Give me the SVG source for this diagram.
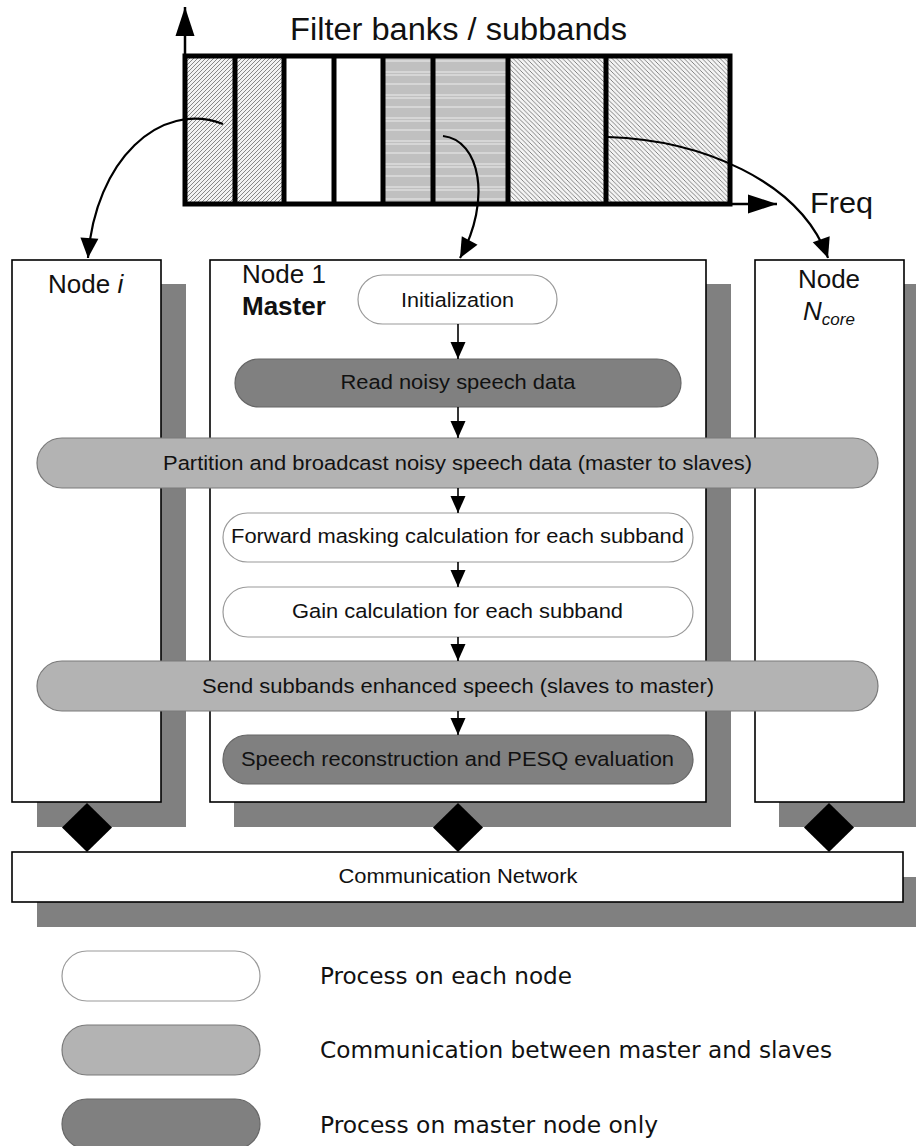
<svg xmlns="http://www.w3.org/2000/svg" width="916" height="1146" viewBox="0 0 916 1146">
<style>
.box{fill:#fff;stroke:#000;stroke-width:1.6}
.shadow{fill:#808080}
.pw{fill:#fff;stroke:#9a9a9a;stroke-width:1.2}
.pl{fill:#b3b3b3;stroke:#7a7a7a;stroke-width:1.2}
.pd{fill:#808080;stroke:#666;stroke-width:1.2}
.t{font-family:"Liberation Sans",Arial,sans-serif;fill:#111}
.pt{font-family:"Liberation Sans",Arial,sans-serif;font-size:20.5px;fill:#111;text-anchor:middle}
.lt{font-family:"DejaVu Sans","Liberation Sans",sans-serif;font-stretch:condensed;font-size:23px;fill:#111}
.con{fill:none;stroke:#000;stroke-width:2.2}
.flow{stroke:#000;stroke-width:1.6}
.band{stroke:#000;stroke-width:5;fill:none}
.dia{fill:#000}
</style>
<defs>
<pattern id="hatchA" patternUnits="userSpaceOnUse" width="4" height="4">
<rect width="4" height="4" fill="#f2f2f2"/>
<path d="M-1,1 l2,-2 M0,4 l4,-4 M3,5 l2,-2" stroke="#7a7a7a" stroke-width="0.9"/>
</pattern>
<pattern id="hatchB" patternUnits="userSpaceOnUse" width="4.5" height="4.5">
<rect width="4.5" height="4.5" fill="#f4f4f4"/>
<path d="M-1,3.5 l2,2 M0,0 l4.5,4.5 M3.5,-1 l2,2" stroke="#777" stroke-width="0.9"/>
</pattern>
<pattern id="horiz" patternUnits="userSpaceOnUse" width="10" height="23">
<rect width="10" height="23" fill="#c0c0c0"/>
<path d="M0,3 h10 M0,6 h10 M0,15 h10" stroke="#fff" stroke-width="0.7"/>
</pattern>
<marker id="ah" markerUnits="userSpaceOnUse" markerWidth="22" markerHeight="22" viewBox="0 0 22 22" refX="21" refY="11" orient="auto">
<path d="M1,2 L21,11 L1,20 Z" fill="#000"/>
</marker>
<marker id="as" markerUnits="userSpaceOnUse" markerWidth="18" markerHeight="16" viewBox="0 0 18 16" refX="17" refY="8" orient="auto">
<path d="M0,0.5 L17,8 L0,15.5 Z" fill="#000"/>
</marker>
<marker id="ax" markerUnits="userSpaceOnUse" markerWidth="30" markerHeight="20" viewBox="0 0 30 20" refX="29" refY="10" orient="auto">
<path d="M0,0.5 L29,10 L0,19.5 Z" fill="#000"/>
</marker>
</defs>

<g id="filterbank">
<rect x="185" y="56" width="50" height="148" fill="url(#hatchA)"/>
<rect x="235" y="56" width="49" height="148" fill="url(#hatchA)"/>
<rect x="284" y="56" width="99" height="148" fill="#fff"/>
<rect x="383" y="56" width="125" height="148" fill="url(#horiz)"/>
<rect x="508" y="56" width="222" height="148" fill="url(#hatchB)"/>
<path class="band" d="M235,56 V204 M284,56 V204 M334,56 V204 M383,56 V204 M433,56 V204 M508,56 V204 M606,56 V204"/>
<rect class="band" x="185" y="56" width="545" height="148"/>
<line x1="185" y1="58" x2="185" y2="7" stroke="#000" stroke-width="2.5" marker-end="url(#ax)"/>
<line x1="728" y1="204" x2="777" y2="204" stroke="#000" stroke-width="2.5" marker-end="url(#ax)"/>
<text class="t" x="290" y="40" font-size="31" textLength="337" lengthAdjust="spacingAndGlyphs">Filter banks / subbands</text>
<text class="t" x="810" y="213" font-size="30" textLength="63" lengthAdjust="spacingAndGlyphs">Freq</text>
</g>

<g id="shadows">
<rect class="shadow" x="37" y="284" width="149" height="543"/>
<rect class="shadow" x="234" y="284" width="497" height="543"/>
<rect class="shadow" x="779" y="284" width="149" height="543"/>
<rect class="shadow" x="37" y="877" width="900" height="50"/>
</g>

<g id="node-i">
<rect class="box" x="12" y="260" width="149" height="542"/>
<text class="t" x="48" y="293" font-size="26">Node <tspan font-style="italic">i</tspan></text>
</g>

<g id="node-1">
<rect class="box" x="210" y="260" width="496" height="542"/>
<text class="t" x="242" y="283" font-size="26">Node 1</text>
<text class="t" x="242" y="315" font-size="26" font-weight="bold">Master</text>
</g>

<g id="node-ncore">
<rect class="box" x="755" y="260" width="149" height="542"/>
<text class="t" x="829" y="288" font-size="26" text-anchor="middle">Node</text>
<text class="t" x="803" y="320" font-size="26" font-style="italic">N<tspan font-size="17" dy="5">core</tspan></text>
</g>

<g id="network">
<rect class="box" x="12" y="852" width="891" height="50"/>
<text class="pt" x="458" y="883" textLength="239" lengthAdjust="spacingAndGlyphs">Communication Network</text>
</g>

<g id="links">
<path class="dia" d="M87,803 L112,827.5 L87,852 L62,827.5 Z"/>
<path class="dia" d="M458,803 L483,827.5 L458,852 L433,827.5 Z"/>
<path class="dia" d="M829,803 L854,827.5 L829,852 L804,827.5 Z"/>
</g>

<g id="step-init">
<rect class="pw" x="358" y="275" width="199" height="49" rx="24.5"/>
<text class="pt" x="457.5" y="307" textLength="113" lengthAdjust="spacingAndGlyphs">Initialization</text>
</g>
<g id="step-read">
<rect class="pd" x="235" y="359" width="446" height="48" rx="24"/>
<text class="pt" x="458" y="389" textLength="235" lengthAdjust="spacingAndGlyphs">Read noisy speech data</text>
</g>
<g id="step-partition">
<rect class="pl" x="37" y="438" width="841" height="50" rx="25"/>
<text class="pt" x="457.5" y="470" textLength="589" lengthAdjust="spacingAndGlyphs">Partition and broadcast noisy speech data (master to slaves)</text>
</g>
<g id="step-forward">
<rect class="pw" x="223" y="513" width="470" height="49" rx="24.5"/>
<text class="pt" x="457.5" y="543" textLength="453" lengthAdjust="spacingAndGlyphs">Forward masking calculation for each subband</text>
</g>
<g id="step-gain">
<rect class="pw" x="223" y="587" width="470" height="50" rx="25"/>
<text class="pt" x="457.5" y="618" textLength="331" lengthAdjust="spacingAndGlyphs">Gain calculation for each subband</text>
</g>
<g id="step-send">
<rect class="pl" x="37" y="661" width="841" height="50" rx="25"/>
<text class="pt" x="458" y="693" textLength="512" lengthAdjust="spacingAndGlyphs">Send subbands enhanced speech (slaves to master)</text>
</g>
<g id="step-speech">
<rect class="pd" x="223" y="735" width="470" height="49" rx="24.5"/>
<text class="pt" x="457.5" y="766" textLength="433" lengthAdjust="spacingAndGlyphs">Speech reconstruction and PESQ evaluation</text>
</g>

<g id="connectors">
<path class="con" d="M223,124 C160,100 95,160 88,258" marker-end="url(#ah)"/>
<path class="con" d="M443,136 C480,140 492,200 460,258" marker-end="url(#ah)"/>
<path class="con" d="M608,137 C700,140 800,180 828,258" marker-end="url(#ah)"/>
<line class="flow" x1="458" y1="324" x2="458" y2="359" marker-end="url(#as)"/>
<line class="flow" x1="458" y1="407" x2="458" y2="438" marker-end="url(#as)"/>
<line class="flow" x1="458" y1="488" x2="458" y2="513" marker-end="url(#as)"/>
<line class="flow" x1="458" y1="562" x2="458" y2="587" marker-end="url(#as)"/>
<line class="flow" x1="458" y1="637" x2="458" y2="661" marker-end="url(#as)"/>
<line class="flow" x1="458" y1="711" x2="458" y2="735" marker-end="url(#as)"/>
</g>

<g id="legend">
<rect class="pw" x="62" y="951" width="198" height="50" rx="25"/>
<text class="lt" x="320" y="984" textLength="252" lengthAdjust="spacingAndGlyphs">Process on each node</text>
<rect class="pl" x="62" y="1025" width="198" height="50" rx="25"/>
<text class="lt" x="320" y="1058" textLength="512" lengthAdjust="spacingAndGlyphs">Communication between master and slaves</text>
<rect class="pd" x="62" y="1099" width="198" height="50" rx="25"/>
<text class="lt" x="320" y="1133" textLength="338" lengthAdjust="spacingAndGlyphs">Process on master node only</text>
</g>
</svg>
